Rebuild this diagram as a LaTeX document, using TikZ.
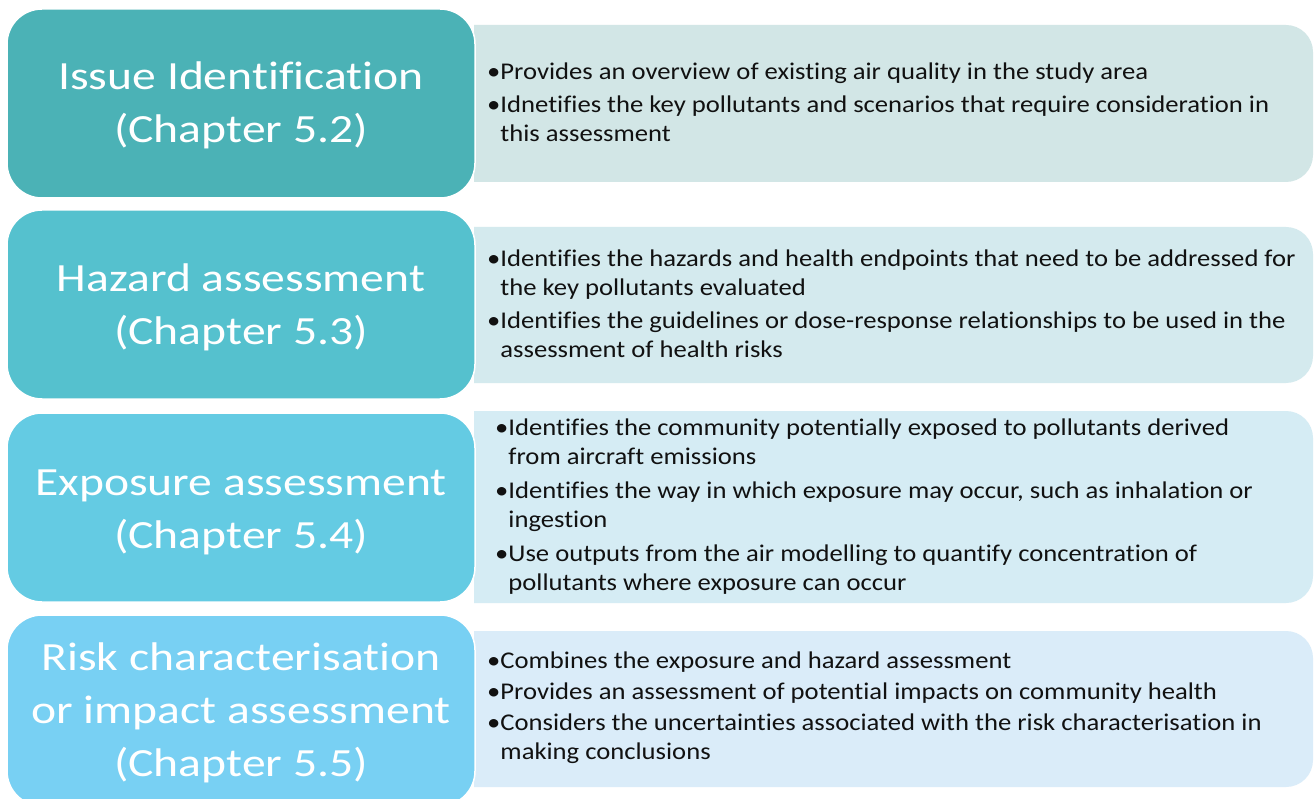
\documentclass[tikz,border=0pt]{standalone}
\usepackage{fontspec}
\setmainfont{Carlito}[Ligatures=NoCommon]
\newfontfamily\stagefont{Carlito}[Ligatures=NoCommon,FakeStretch=1.19]
\newfontfamily\detailfont{Carlito}[Ligatures=NoCommon,FakeStretch=1.11]
\definecolor{lA}{HTML}{4BB2B6}
\definecolor{lB}{HTML}{55C1CE}
\definecolor{lC}{HTML}{64CBE3}
\definecolor{lD}{HTML}{78D0F3}
\definecolor{rA}{HTML}{D2E6E6}
\definecolor{rB}{HTML}{D4EAEE}
\definecolor{rC}{HTML}{D5ECF4}
\definecolor{rD}{HTML}{DAECF9}
\definecolor{ink}{HTML}{111111}
% right-hand panel: square on the left, rounded on the right
\newcommand\detailpanel[3]{%
  \fill[#3] (474,-#1) -- (1286,-#1) arc[start angle=90,end angle=0,radius=27]
    -- (1313,{-#2+27}) arc[start angle=0,end angle=-90,radius=27]
    -- (474,-#2) -- cycle;}
\newcommand\bl{\textbullet}
\newcommand\hang{\hphantom{\textbullet}}
\begin{document}
\begin{tikzpicture}[x=1pt,y=1pt,
  stagebox/.style={draw=white,line width=1.5pt,rounded corners=35pt},
  stagetext/.style={anchor=base,inner sep=0pt,text=white},
  detailtext/.style={anchor=base west,inner sep=0pt,text=ink}]
\clip (0,0) rectangle (1314,-799);
\fill[white] (0,0) rectangle (1314,-799);

% detail panels (behind the stage boxes)
\detailpanel{25}{182}{rA}
\detailpanel{227}{383}{rB}
\detailpanel{411}{603}{rC}
\detailpanel{631}{787}{rD}

% stage boxes
\filldraw[stagebox,fill=lA] (7,-9) rectangle (475,-198);
\filldraw[stagebox,fill=lB] (7,-210) rectangle (475,-399);
\filldraw[stagebox,fill=lC] (7,-413) rectangle (475,-602);
\filldraw[stagebox,fill=lD] (7,-615) rectangle (475,-806);

% stage titles
\node[stagetext] (s1) at (241,-90) {\parbox[t]{460pt}{\stagefont\fontsize{40}{53}\selectfont\centering
  Issue Identification\\(Chapter 5.2)}};
\node[stagetext] (s2) at (241,-292) {\parbox[t]{460pt}{\stagefont\fontsize{40}{53}\selectfont\centering
  Hazard assessment\\(Chapter 5.3)}};
\node[stagetext] (s3) at (241,-495) {\parbox[t]{460pt}{\stagefont\fontsize{40}{53}\selectfont\centering
  Exposure assessment\\(Chapter 5.4)}};
\node[stagetext] (s4) at (241,-670) {\parbox[t]{460pt}{\stagefont\fontsize{40}{53}\selectfont\centering
  Risk characterisation\\or impact assessment\\(Chapter 5.5)}};

% details
\node[detailtext] (d1) at (487,-80) {\parbox[t]{820pt}{\detailfont\fontsize{24}{29}\selectfont\raggedright
  \bl Provides an overview of existing air quality in the study area\\[4pt]
  \bl Idnetifies the key pollutants and scenarios that require consideration in\\
  \hang this assessment}};
\node[detailtext] (d2) at (487,-267) {\parbox[t]{820pt}{\detailfont\fontsize{24}{29}\selectfont\raggedright
  \bl Identifies the hazards and health endpoints that need to be addressed for\\
  \hang the key pollutants evaluated\\[4pt]
  \bl Identifies the guidelines or dose-response relationships to be used in the\\
  \hang assessment of health risks}};
\node[detailtext] (d3) at (495,-435) {\parbox[t]{800pt}{\detailfont\fontsize{24}{29.5}\selectfont\raggedright
  \bl Identifies the community potentially exposed to pollutants derived\\
  \hang from aircraft emissions\\[4pt]
  \bl Identifies the way in which exposure may occur, such as inhalation or\\
  \hang ingestion\\[4pt]
  \bl Use outputs from the air modelling to quantify concentration of\\
  \hang pollutants where exposure can occur}};
\node[detailtext] (d4) at (487,-668) {\parbox[t]{820pt}{\detailfont\fontsize{24}{29}\selectfont\raggedright
  \bl Combines the exposure and hazard assessment\\[2pt]
  \bl Provides an assessment of potential impacts on community health\\[2pt]
  \bl Considers the uncertainties associated with the risk characterisation in\\
  \hang making conclusions}};
\end{tikzpicture}
\end{document}
